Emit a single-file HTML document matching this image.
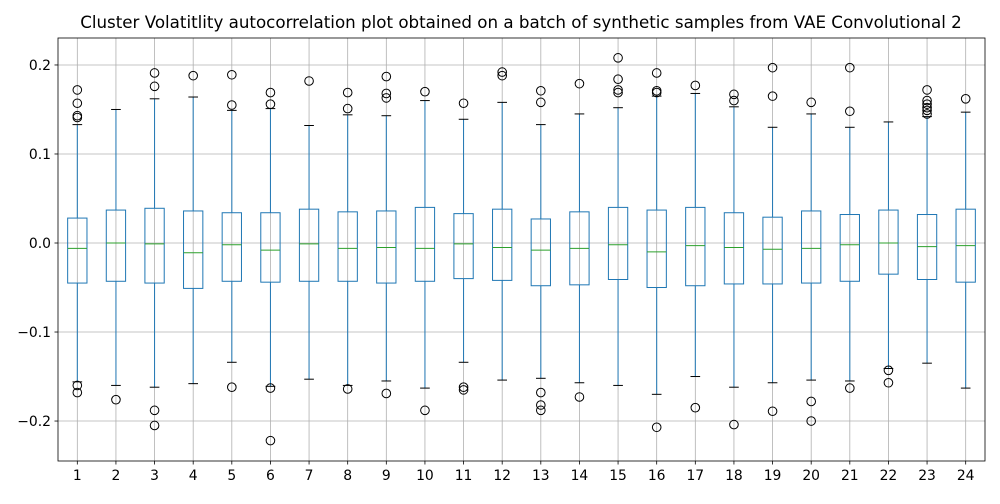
<!DOCTYPE html>
<html><head><meta charset="utf-8"><style>
body{margin:0;background:#fff;font-family:"DejaVu Sans","Liberation Sans",sans-serif}
</style></head><body>
<svg id="chart" width="1000" height="500" xmlns="http://www.w3.org/2000/svg" font-family="DejaVu Sans, Liberation Sans, sans-serif">
<rect width="1000" height="500" fill="#fff"/>
<text x="521" y="28" text-anchor="middle" font-size="16.7" fill="#000">Cluster Volatitlity autocorrelation plot obtained on a batch of synthetic samples from VAE Convolutional 2</text>
<g id="grid"></g><g id="marks"></g><g id="axes"></g>
</svg>
<script>
const categories=["1","2","3","4","5","6","7","8","9","10","11","12","13","14","15","16","17","18","19","20","21","22","23","24"];
const whisLo=[-0.156,-0.160,-0.162,-0.158,-0.134,-0.161,-0.153,-0.160,-0.155,-0.163,-0.134,-0.154,-0.152,-0.157,-0.160,-0.170,-0.150,-0.162,-0.157,-0.154,-0.155,-0.141,-0.135,-0.163];
const q1=[-0.045,-0.043,-0.045,-0.051,-0.043,-0.044,-0.043,-0.043,-0.045,-0.043,-0.040,-0.042,-0.048,-0.047,-0.041,-0.050,-0.048,-0.046,-0.046,-0.045,-0.043,-0.035,-0.041,-0.044];
const medians=[-0.006,0.0,-0.001,-0.011,-0.002,-0.008,-0.001,-0.006,-0.005,-0.006,-0.001,-0.005,-0.008,-0.006,-0.002,-0.010,-0.003,-0.005,-0.007,-0.006,-0.002,0.0,-0.004,-0.003];
const q3=[0.028,0.037,0.039,0.036,0.034,0.034,0.038,0.035,0.036,0.040,0.033,0.038,0.027,0.035,0.040,0.037,0.040,0.034,0.029,0.036,0.032,0.037,0.032,0.038];
const whisHi=[0.133,0.150,0.162,0.164,0.149,0.151,0.132,0.144,0.143,0.160,0.139,0.158,0.133,0.145,0.152,0.165,0.168,0.153,0.130,0.145,0.130,0.136,0.142,0.147];
const fliers=[[0.172,0.157,0.143,0.141,-0.160,-0.168],[-0.176],[0.191,0.176,-0.188,-0.205],[0.188],[0.189,0.155,-0.162],[0.169,0.156,-0.163,-0.222],[0.182],[0.169,0.151,-0.164],[0.187,0.168,0.163,-0.169],[0.170,-0.188],[0.157,-0.162,-0.165],[0.192,0.188],[0.171,0.158,-0.168,-0.182,-0.188],[0.179,-0.173],[0.208,0.184,0.172,0.169],[0.191,0.171,0.169,-0.207],[0.177,-0.185],[0.167,0.160,-0.204],[0.197,0.165,-0.189],[0.158,-0.178,-0.200],[0.197,0.148,-0.163],[-0.143,-0.157],[0.172,0.160,0.156,0.152,0.149,0.145],[0.162]];
const yTicks=[-0.2,-0.1,0.0,0.1,0.2];
const yTickLabels=["−0.2","−0.1","0.0","0.1","0.2"];

const L=58,R=985,T=38,B=461,yMin=-0.2449,yMax=0.2303;
const NS="http://www.w3.org/2000/svg";
const xs=i=>L+(i+0.5)*(R-L)/categories.length;
const ys=v=>B-(v-yMin)/(yMax-yMin)*(B-T);
const step=(R-L)/categories.length;
function mk(tag,attrs,parent){const e=document.createElementNS(NS,tag);for(const k in attrs)e.setAttribute(k,attrs[k]);parent.appendChild(e);return e;}
const grid=document.getElementById('grid'),marks=document.getElementById('marks'),axes=document.getElementById('axes');
yTicks.forEach((v,i)=>{
  const y=ys(v);
  const g=mk('line',{x1:L,x2:R,y1:y,y2:y,stroke:'#b0b0b0','stroke-width':0.8},grid);
  
  
  mk('line',{x1:L-3.5,x2:L,y1:y,y2:y,stroke:'#000','stroke-width':0.8},axes);
  const t=mk('text',{x:L-7,y:y+5,'text-anchor':'end','font-size':13.9},axes);
  t.textContent=yTickLabels[i];
  
  
});
categories.forEach((c,i)=>{
  const x=xs(i);
  const g=mk('line',{x1:x,x2:x,y1:T,y2:B,stroke:'#b0b0b0','stroke-width':0.8},grid);
  
  
  mk('line',{x1:x,x2:x,y1:B,y2:B+3.5,stroke:'#000','stroke-width':0.8},axes);
  const t=mk('text',{x:x,y:B+19,'text-anchor':'middle','font-size':13.9},axes);
  t.textContent=c;
  
  
  const g2=mk('g',{},marks);
  
  
  const bw=step*0.5,cw=step*0.25,col='#1f77b4';
  mk('line',{x1:x,x2:x,y1:ys(q3[i]),y2:ys(whisHi[i]),stroke:col,'stroke-width':1},g2);
  mk('line',{x1:x,x2:x,y1:ys(q1[i]),y2:ys(whisLo[i]),stroke:col,'stroke-width':1},g2);
  mk('line',{x1:x-cw/2,x2:x+cw/2,y1:ys(whisHi[i]),y2:ys(whisHi[i]),stroke:'#000','stroke-width':1},g2);
  mk('line',{x1:x-cw/2,x2:x+cw/2,y1:ys(whisLo[i]),y2:ys(whisLo[i]),stroke:'#000','stroke-width':1},g2);
  mk('rect',{x:x-bw/2,y:ys(q3[i]),width:bw,height:ys(q1[i])-ys(q3[i]),fill:'none',stroke:col,'stroke-width':1},g2);
  mk('line',{x1:x-bw/2,x2:x+bw/2,y1:ys(medians[i]),y2:ys(medians[i]),stroke:'#2ca02c','stroke-width':1},g2);
  fliers[i].forEach(v=>{
    const f=mk('circle',{cx:x,cy:ys(v),r:4.3,fill:'none',stroke:'#000','stroke-width':1},g2);
    
    
  });
});
const fr=mk('rect',{x:L,y:T,width:R-L,height:B-T,fill:'none',stroke:'#000','stroke-width':0.8},axes);


</script>
</body></html>
